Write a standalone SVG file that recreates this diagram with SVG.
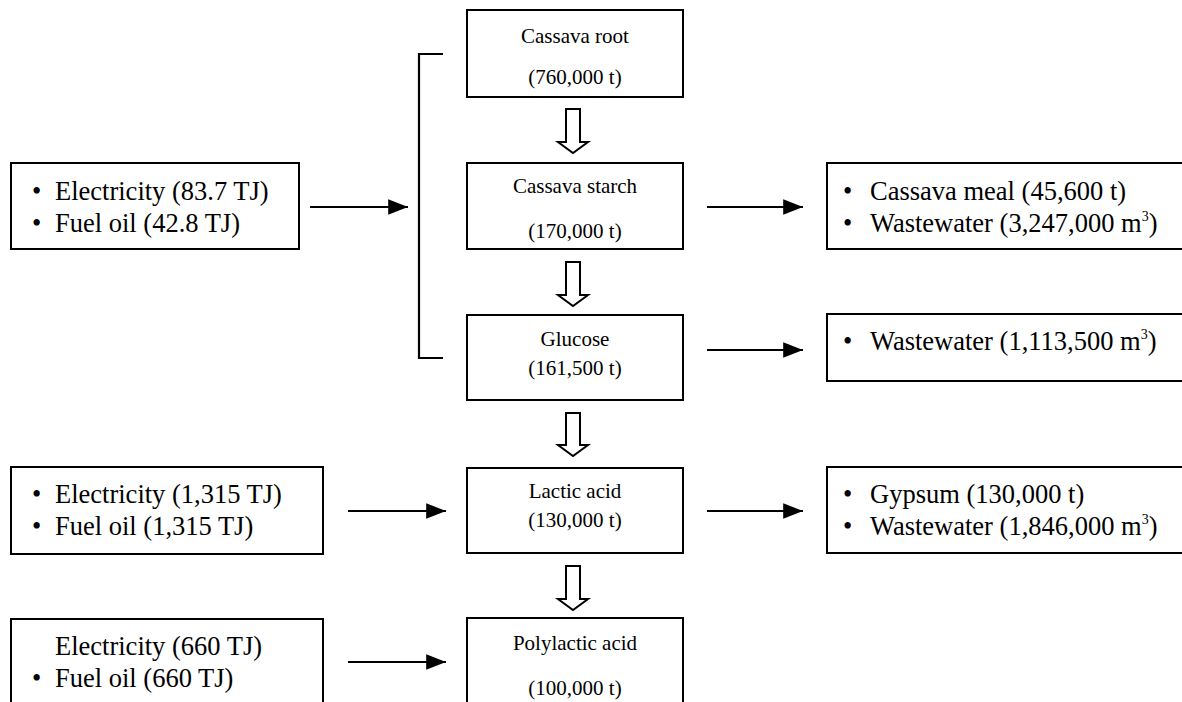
<svg xmlns="http://www.w3.org/2000/svg" width="1182" height="702" viewBox="0 0 1182 702">
<style>
.box{fill:#fff;stroke:#000;stroke-width:2}
.t{font-family:"Liberation Serif","Times New Roman",serif;fill:#000}
.c{font-size:21px;text-anchor:middle}
.b{font-size:26.5px}
.s{font-size:14px}
.ln{stroke:#000;stroke-width:2.2;fill:none}
.ha{fill:#fff;stroke:#000;stroke-width:2;stroke-linejoin:miter}
</style>
<defs>
<marker id="ah" markerWidth="9" markerHeight="7" refX="9" refY="3.5" orient="auto" markerUnits="strokeWidth">
<path d="M0,0 L9,3.5 L0,7 Z" fill="#000"/>
</marker>
</defs>
<rect width="1182" height="702" fill="#fff"/>

<g id="cassava-root">
<rect class="box" x="467" y="10" width="216" height="87"/>
<text class="t c" x="575" y="43">Cassava root</text>
<text class="t c" x="575" y="84">(760,000 t)</text>
</g>
<g id="cassava-starch">
<rect class="box" x="467" y="163" width="216" height="86"/>
<text class="t c" x="575" y="193">Cassava starch</text>
<text class="t c" x="575" y="238">(170,000 t)</text>
</g>
<g id="glucose">
<rect class="box" x="467" y="315" width="216" height="85"/>
<text class="t c" x="575" y="346">Glucose</text>
<text class="t c" x="575" y="375">(161,500 t)</text>
</g>
<g id="lactic-acid">
<rect class="box" x="467" y="468" width="216" height="85"/>
<text class="t c" x="575" y="498">Lactic acid</text>
<text class="t c" x="575" y="527">(130,000 t)</text>
</g>
<g id="polylactic-acid">
<rect class="box" x="467" y="618" width="216" height="100"/>
<text class="t c" x="575" y="650">Polylactic acid</text>
<text class="t c" x="575" y="695">(100,000 t)</text>
</g>

<g id="input-1">
<rect class="box" x="11" y="163" width="288" height="86"/>
<text class="t b" x="32" y="200">•</text><text class="t b" x="55" y="200">Electricity (83.7 TJ)</text>
<text class="t b" x="32" y="232">•</text><text class="t b" x="55" y="232">Fuel oil (42.8 TJ)</text>
</g>
<g id="input-2">
<rect class="box" x="11" y="467" width="312" height="87"/>
<text class="t b" x="32" y="503">•</text><text class="t b" x="55" y="503">Electricity (1,315 TJ)</text>
<text class="t b" x="32" y="535">•</text><text class="t b" x="55" y="535">Fuel oil (1,315 TJ)</text>
</g>
<g id="input-3">
<rect class="box" x="11" y="619" width="312" height="100"/>
<text class="t b" x="55" y="655">Electricity (660 TJ)</text>
<text class="t b" x="32" y="687">•</text><text class="t b" x="55" y="687">Fuel oil (660 TJ)</text>
</g>

<g id="output-1">
<rect class="box" x="827" y="163" width="370" height="86"/>
<text class="t b" x="843" y="200">•</text><text class="t b" x="870" y="200">Cassava meal (45,600 t)</text>
<text class="t b" x="843" y="232">•</text><text class="t b" x="870" y="232">Wastewater (3,247,000 m<tspan class="s" dy="-11">3</tspan><tspan dy="11">)</tspan></text>
</g>
<g id="output-2">
<rect class="box" x="827" y="314" width="370" height="67"/>
<text class="t b" x="843" y="350">•</text><text class="t b" x="870" y="350">Wastewater (1,113,500 m<tspan class="s" dy="-11">3</tspan><tspan dy="11">)</tspan></text>
</g>
<g id="output-3">
<rect class="box" x="827" y="467" width="370" height="86"/>
<text class="t b" x="843" y="503">•</text><text class="t b" x="870" y="503">Gypsum (130,000 t)</text>
<text class="t b" x="843" y="535">•</text><text class="t b" x="870" y="535">Wastewater (1,846,000 m<tspan class="s" dy="-11">3</tspan><tspan dy="11">)</tspan></text>
</g>

<g id="connectors">
<path class="ln" d="M443,54 H419 V358 H443"/>
<line class="ln" x1="310" y1="207" x2="408" y2="207" marker-end="url(#ah)"/>
<line class="ln" x1="707" y1="207" x2="803" y2="207" marker-end="url(#ah)"/>
<line class="ln" x1="707" y1="350" x2="803" y2="350" marker-end="url(#ah)"/>
<line class="ln" x1="348" y1="511" x2="446" y2="511" marker-end="url(#ah)"/>
<line class="ln" x1="707" y1="511" x2="803" y2="511" marker-end="url(#ah)"/>
<line class="ln" x1="348" y1="662" x2="446" y2="662" marker-end="url(#ah)"/>
<path class="ha" d="M566,109 H580 V142 H588 L573,153 L558,142 H566 Z"/>
<path class="ha" d="M566,262 H580 V295 H588 L573,306 L558,295 H566 Z"/>
<path class="ha" d="M566,413 H580 V445 H588 L573,456 L558,445 H566 Z"/>
<path class="ha" d="M566,566 H580 V599 H588 L573,610 L558,599 H566 Z"/>
</g>
</svg>
